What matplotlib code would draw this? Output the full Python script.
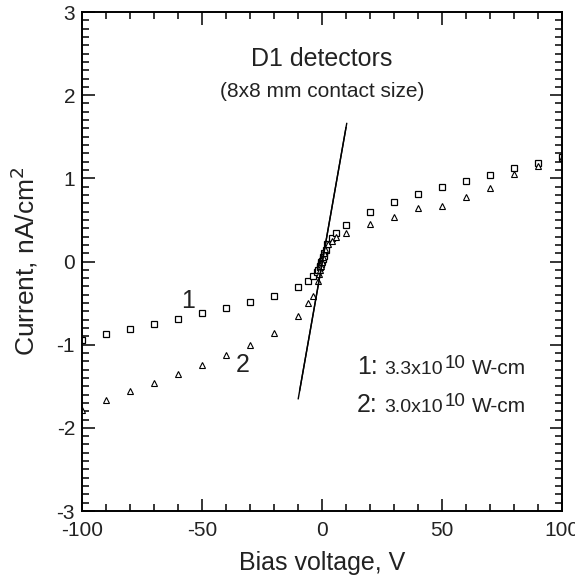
"""I-V curves of D1 detectors with linear fits near zero bias."""

import matplotlib
matplotlib.use('Agg')
import matplotlib.pyplot as plt
from matplotlib.ticker import MultipleLocator

plt.rcParams['font.family'] = ['Liberation Sans', 'DejaVu Sans']
plt.rcParams['axes.unicode_minus'] = False

# Sample 1 (squares)
v1 = [-100, -90, -80, -70, -60, -50, -40, -30, -20, -10, -5.7, -3.9, -2.2,
      -1.5, -1.0, -0.75, -0.5, -0.25, 0, 0.25, 0.5, 0.75, 1.0, 1.5,
      2.2, 4, 6, 10, 20, 30, 40, 50, 60, 70, 80, 90, 100]
i1 = [-0.94, -0.87, -0.81, -0.75, -0.69, -0.62, -0.56, -0.49, -0.41, -0.31, -0.23, -0.18, -0.13,
      -0.10, -0.07, -0.05, -0.03, -0.01, 0.01, 0.03, 0.05, 0.07, 0.10, 0.14,
      0.21, 0.28, 0.34, 0.44, 0.60, 0.72, 0.81, 0.89, 0.97, 1.04, 1.12, 1.19, 1.26]

# Sample 2 (triangles)
v2 = [-100, -90, -80, -70, -60, -50, -40, -30, -20, -10, -5.7, -3.9, -1.8,
      -1.2, -0.8, -0.4, 0, 0.4, 0.8, 1.2,
      2.3, 4, 5.8, 10, 20, 30, 40, 50, 60, 70, 80, 90, 100]
i2 = [-1.78, -1.67, -1.56, -1.46, -1.35, -1.24, -1.13, -1.00, -0.86, -0.66, -0.50, -0.41, -0.24,
      -0.15, -0.10, -0.05, 0.0, 0.05, 0.10, 0.15,
      0.21, 0.25, 0.30, 0.34, 0.45, 0.54, 0.645, 0.67, 0.78, 0.88, 1.05, 1.15, 1.25]

# Linear fits near zero bias (end points)
fit1_v = [-9.9, 10.3]
fit1_i = [-1.65, 1.66]
fit2_v = [-9.3, 10.0]
fit2_i = [-1.55, 1.61]

# Resistivity annotations
res_keys = ['1:', '2:']
res_values = ['3.3x10', '3.0x10']
res_y = [-1.35, -1.81]

TXT = '#222222'

fig = plt.figure(figsize=(5.75, 5.75), dpi=100)
ax = fig.add_axes([0.1426, 0.1113, 0.8348, 0.8678])

ax.plot(v1, i1, linestyle='none', marker='s', markersize=5, markerfacecolor='white',
        markeredgecolor='black', markeredgewidth=0.9)
ax.plot(v2, i2, linestyle='none', marker='^', markersize=4.5, markerfacecolor='white',
        markeredgecolor='black', markeredgewidth=0.8)
ax.plot(fit1_v, fit1_i, color='black', linewidth=1.0)
ax.plot(fit2_v, fit2_i, color='black', linewidth=1.0)

ax.set_xlim(-100, 100)
ax.set_ylim(-3, 3)
ax.xaxis.set_major_locator(MultipleLocator(50))
ax.xaxis.set_minor_locator(MultipleLocator(10))
ax.yaxis.set_major_locator(MultipleLocator(1))
ax.yaxis.set_minor_locator(MultipleLocator(0.1))
ax.tick_params(which='both', direction='in', top=True, right=True, labelsize=15,
               width=1.1, colors='black', labelcolor=TXT)
ax.tick_params(which='major', length=9)
ax.tick_params(axis='x', which='major', pad=7)
ax.tick_params(axis='y', which='major', pad=5)
ax.tick_params(which='minor', length=5)
for spine in ax.spines.values():
    spine.set_linewidth(1.4)

ax.set_xlabel('Bias voltage, V', fontsize=18, color=TXT, labelpad=8)
ax.set_ylabel('Current, nA/cm$^2$', fontsize=19, color=TXT, labelpad=12)

ax.text(0, 2.44, 'D1 detectors', ha='center', va='center', fontsize=18, color=TXT)
ax.text(0, 2.04, '(8x8 mm contact size)', ha='center', va='center', fontsize=15, color=TXT)
ax.text(-56, -0.48, '1', ha='center', va='center', fontsize=18, color=TXT)
ax.text(-33, -1.25, '2', ha='center', va='center', fontsize=18, color=TXT)

for key, val, y in zip(res_keys, res_values, res_y):
    ax.text(14.5, y, key, ha='left', va='baseline', fontsize=18, color=TXT)
    ax.text(25.8, y, val, ha='left', va='baseline', fontsize=14, color=TXT)
    ax.text(51.2, y + 0.075, '10', ha='left', va='baseline', fontsize=13.5, color=TXT)
    ax.text(62.5, y, 'W-cm', ha='left', va='baseline', fontsize=15, color=TXT)

fig.savefig('out.png', dpi=100)
